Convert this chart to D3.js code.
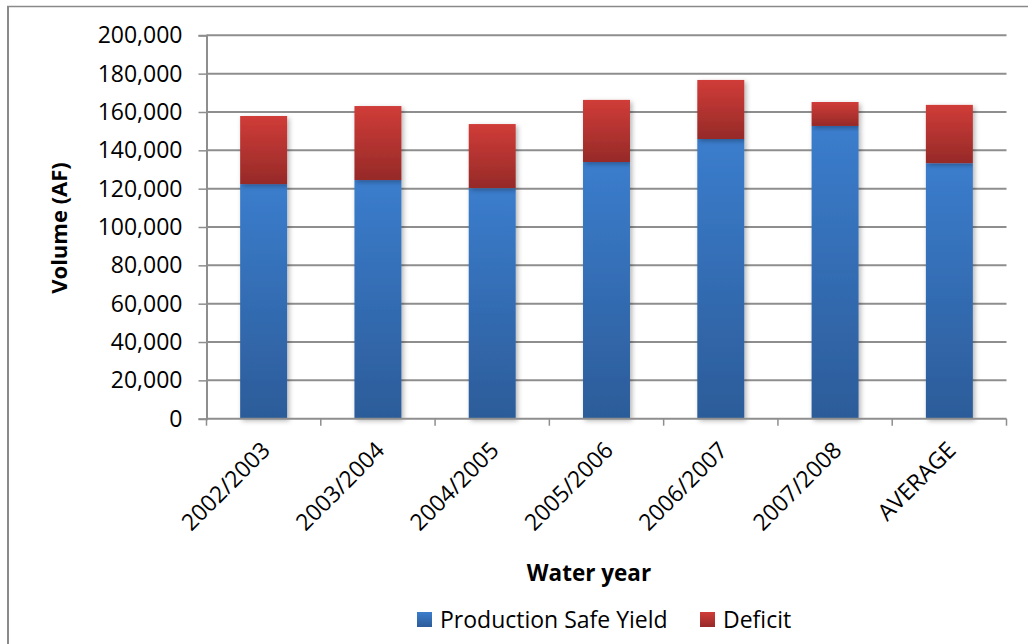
<!DOCTYPE html>
<html>
<head>
<meta charset="utf-8">
<script src="https://cdn.jsdelivr.net/npm/d3@7"></script>
<style>
  html, body { margin: 0; padding: 0; background: #fff; }
  svg { display: block; font-family: "Open Sans", "Liberation Sans", sans-serif; }
</style>
</head>
<body>
<svg id="chart" width="1028" height="644"></svg>
<script>
// Water-year volumes (acre-feet)
const years = ["2002/2003", "2003/2004", "2004/2005", "2005/2006", "2006/2007", "2007/2008", "AVERAGE"];
const safeYield = [122400, 124500, 120300, 133900, 145900, 152700, 133300];
const deficit   = [35500, 38600, 33400, 32400, 30800, 12500, 30400];
const yTicks = [0, 20000, 40000, 60000, 80000, 100000, 120000, 140000, 160000, 180000, 200000];
const seriesNames = ["Production Safe Yield", "Deficit"];

const svg = d3.select("#chart");
const margin = { left: 206.5, right: 1006.5, top: 35.3, bottom: 418.7 };

const x = d3.scaleBand().domain(years).range([margin.left, margin.right])
  .paddingInner(0.589).paddingOuter(0.2945);
const y = d3.scaleLinear().domain([0, 200000]).range([margin.bottom, margin.top]);

const defs = svg.append("defs");
function grad(id, top, bottom) {
  const g = defs.append("linearGradient").attr("id", id)
    .attr("x1", 0).attr("y1", 0).attr("x2", 0).attr("y2", 1);
  g.append("stop").attr("offset", "0%").attr("stop-color", top);
  g.append("stop").attr("offset", "100%").attr("stop-color", bottom);
}
grad("gBlue", "#3b7dcd", "#2c5c99");
grad("gRed", "#d03c38", "#962a28");
const f = defs.append("filter").attr("id", "shadow")
  .attr("x", "-20%").attr("y", "-10%").attr("width", "150%").attr("height", "130%");
f.append("feDropShadow").attr("dx", 2).attr("dy", 2).attr("stdDeviation", 2.5)
  .attr("flood-color", "#000").attr("flood-opacity", 0.3);

// chart frame
svg.append("line").attr("x1", 7).attr("x2", 1028).attr("y1", 6.5).attr("y2", 6.5)
  .attr("stroke", "#8a8a8a").attr("stroke-width", 1.5);
svg.append("line").attr("x1", 8).attr("x2", 8).attr("y1", 6).attr("y2", 644)
  .attr("stroke", "#8a8a8a").attr("stroke-width", 2);

// gridlines
svg.append("g").selectAll("line").data(yTicks.filter(d => d > 0)).join("line")
  .attr("x1", margin.left).attr("x2", margin.right)
  .attr("y1", d => y(d)).attr("y2", d => y(d))
  .attr("stroke", "#8e8e8e").attr("stroke-width", 2);

// y axis
const yAxis = svg.append("g").attr("transform", `translate(${margin.left},0)`)
  .call(d3.axisLeft(y).tickValues(yTicks).tickSize(8).tickPadding(16)
    .tickFormat(d3.format(",")));
yAxis.select(".domain").attr("stroke", "#8e8e8e").attr("stroke-width", 2);
yAxis.selectAll(".tick line").attr("stroke", "#8e8e8e").attr("stroke-width", 1.5);
yAxis.selectAll(".tick text").attr("font-size", 23).attr("fill", "#000")
  .attr("font-family", "'Open Sans', sans-serif");

// stacked bars
const stackData = years.map((c, i) => ({ cat: c, yield: safeYield[i], deficit: deficit[i] }));
const stacked = d3.stack().keys(["yield", "deficit"])(stackData);
const fills = ["url(#gBlue)", "url(#gRed)"];
svg.append("g").selectAll("g").data(stacked).join("g")
  .attr("fill", (d, i) => fills[i])
  .selectAll("rect").data(d => d).join("rect")
  .attr("x", d => x(d.data.cat)).attr("width", x.bandwidth())
  .attr("y", d => y(d[1])).attr("height", d => y(d[0]) - y(d[1]))
  .attr("filter", "url(#shadow)");

// x axis
const xAxisG = svg.append("g").attr("transform", `translate(0,${margin.bottom})`);
xAxisG.append("line").attr("x1", margin.left).attr("x2", margin.right)
  .attr("stroke", "#8e8e8e").attr("stroke-width", 2);
const bounds = years.map(c => x(c) - x.step() * x.paddingInner() / 2).concat([margin.right]);
xAxisG.selectAll("line.tk").data(bounds).join("line").attr("class", "tk")
  .attr("x1", d => d).attr("x2", d => d).attr("y1", 0).attr("y2", 7)
  .attr("stroke", "#8e8e8e").attr("stroke-width", 1.5);
xAxisG.selectAll("text").data(years).join("text")
  .attr("transform", d => `translate(${x(d) + x.bandwidth() / 2 + 8},${33}) rotate(-45)`)
  .attr("text-anchor", "end").attr("font-size", 23).attr("fill", "#000")
  .text(d => d);

// axis titles
svg.append("text").attr("transform", "translate(67,228) rotate(-90)")
  .attr("text-anchor", "middle").attr("font-size", 22).attr("font-weight", "bold")
  .text("Volume (AF)");
svg.append("text").attr("x", 589).attr("y", 581)
  .attr("text-anchor", "middle").attr("font-size", 22.5).attr("font-weight", "bold")
  .text("Water year");

// legend
const legend = svg.append("g");
const legX = [417, 700];
seriesNames.forEach((name, i) => {
  legend.append("rect").attr("x", legX[i]).attr("y", 612).attr("width", 15).attr("height", 15)
    .attr("fill", fills[i]);
  legend.append("text").attr("x", legX[i] + 23).attr("y", 628)
    .attr("font-size", 23).attr("fill", "#000").text(name);
});
</script>
</body>
</html>
